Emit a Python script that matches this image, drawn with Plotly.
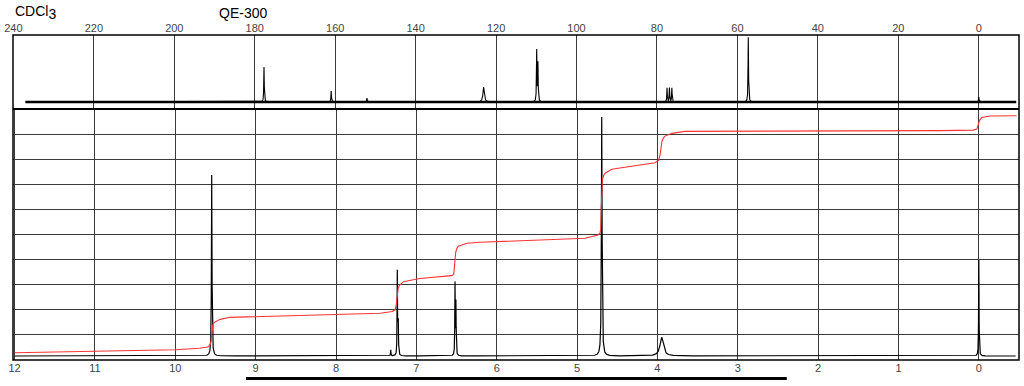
import numpy as np
import plotly.graph_objects as go

# ---------------- data ----------------
# 1H spectrum: peak positions (ppm), heights (grid units above frame bottom), half widths (ppm)
h_peak_ppm = [9.547, 7.319, 7.237, 7.225, 6.519, 6.508, 4.693, 3.947, 0.0]
h_peak_height = [7.21, 0.24, 3.36, 1.30, 2.83, 2.05, 9.52, 0.74, 3.82]
h_peak_hwhm = [0.004, 0.003, 0.003, 0.003, 0.003, 0.003, 0.005, 0.025, 0.003]
h_baseline = 0.16
h_range = [12.0, -0.46]

# 13C spectrum: peak positions (ppm), heights (px-units above baseline), half widths (ppm)
c_peak_ppm = [177.7, 161.0, 152.1, 123.1, 109.9, 109.6, 77.5, 76.9, 76.3, 57.3, 0.0]
c_peak_height = [35.0, 11.0, 4.0, 15.0, 51.0, 38.0, 14.0, 14.0, 14.0, 64.7, 5.0]
c_peak_hwhm = [0.07, 0.07, 0.07, 0.2, 0.07, 0.07, 0.07, 0.07, 0.07, 0.07, 0.07]
c_range = [237.0, -9.3]

# integral curve (ppm, grid units)
integral_ppm = [12.0, 11.0, 10.0, 9.70, 9.60, 9.57, 9.555, 9.548, 9.54, 9.532, 9.515,
                9.48, 9.44, 9.32, 8.82, 7.83, 7.45, 7.30, 7.265, 7.25, 7.242, 7.235,
                7.225, 7.205, 7.16, 6.96, 6.56, 6.535, 6.525, 6.518, 6.51, 6.495, 6.478,
                6.37, 6.21, 4.90, 4.74, 4.715, 4.705, 4.700, 4.695, 4.685, 4.665, 4.65,
                4.57, 4.28, 4.03, 3.985, 3.965, 3.955, 3.945, 3.925, 3.906, 3.82, 3.66,
                0.48, 0.07, 0.025, 0.01, 0.0, -0.01, -0.037, -0.14, -0.47]
integral_value = [0.29, 0.36, 0.41, 0.47, 0.52, 0.58, 0.75, 1.0, 1.25, 1.40, 1.50,
                  1.57, 1.62, 1.70, 1.75, 1.83, 1.86, 1.93, 2.0, 2.2, 2.5, 2.75,
                  2.9, 2.99, 3.12, 3.25, 3.36, 3.42, 3.7, 4.0, 4.3, 4.45, 4.53,
                  4.65, 4.69, 4.85, 4.98, 5.05, 5.2, 6.0, 6.9, 7.2, 7.38, 7.44,
                  7.60, 7.73, 7.86, 7.95, 8.2, 8.45, 8.7, 8.85, 8.92, 9.03, 9.11,
                  9.14, 9.16, 9.2, 9.35, 9.45, 9.55, 9.66, 9.72, 9.73]

bar_ppm = [9.12, 2.39]
title_left = "CDCl<sub><span style='font-size:14px'>3</span></sub>"
title_mid = "QE-300"

# ---------------- build curves from peak lists ----------------
def spectrum(lo, hi, step, pos, amp, hw, base):
    x = np.arange(hi, lo, -step)
    x = np.unique(np.concatenate([x, np.array(pos)]))[::-1]
    y = np.full_like(x, base, dtype=float)
    for p, a, w in zip(pos, amp, hw):
        y += a / (1.0 + ((x - p) / w) ** 2)
    return x, y

hx, hy = spectrum(h_range[1], h_range[0], 0.001, h_peak_ppm, h_peak_height, h_peak_hwhm, h_baseline)
cx, cy = spectrum(c_range[1], c_range[0], 0.02, c_peak_ppm, c_peak_height, c_peak_hwhm, 0.0)

fig = go.Figure()
fig.add_trace(go.Scatter(x=hx, y=hy, mode="lines", line=dict(color="black", width=1.2),
                         xaxis="x", yaxis="y", hoverinfo="skip"))
fig.add_trace(go.Scatter(x=integral_ppm, y=integral_value, mode="lines",
                         line=dict(color="#ff3333", width=1.1), xaxis="x", yaxis="y",
                         hoverinfo="skip"))
fig.add_trace(go.Scatter(x=c_range, y=[0, 0], mode="lines", line=dict(color="black", width=2.6),
                         xaxis="x2", yaxis="y2", hoverinfo="skip"))
fig.add_trace(go.Scatter(x=cx, y=cy, mode="lines", line=dict(color="black", width=1.1),
                         xaxis="x2", yaxis="y2", hoverinfo="skip"))

split = 251 / 325
tickfont = dict(family="Liberation Sans, Arial, sans-serif", size=11, color="#444")
grid = "#3a3a3a"

fig.update_layout(
    width=1024, height=386,
    margin=dict(l=13, r=5, t=35, b=26, autoexpand=False),
    paper_bgcolor="white", plot_bgcolor="white",
    showlegend=False,
    xaxis=dict(domain=[0, 1], range=[12.02, -0.5], anchor="y", tickmode="linear", tick0=0, dtick=1,
               showgrid=True, gridcolor=grid, gridwidth=1, zeroline=False, ticks="",
               tickfont=tickfont, showline=False, automargin=False),
    yaxis=dict(domain=[0, split], range=[0, 10], tickmode="linear", tick0=0, dtick=1,
               showgrid=True, gridcolor=grid, gridwidth=1, showticklabels=False, zeroline=False,
               automargin=False),
    xaxis2=dict(domain=[0, 1], range=[240.1, -10], anchor="y2", side="top", tickmode="linear",
                tick0=0, dtick=20, showgrid=True, gridcolor=grid, gridwidth=1, zeroline=False,
                ticks="", tickfont=tickfont, showline=False, automargin=False),
    yaxis2=dict(domain=[split, 1], range=[-7, 67], showgrid=False, showticklabels=False,
                zeroline=False, automargin=False),
)

# frames
fig.add_shape(type="rect", xref="paper", yref="paper", x0=0, x1=1, y0=0, y1=1,
              line=dict(color="black", width=1.5))
fig.add_shape(type="line", xref="paper", yref="paper", x0=0, x1=1, y0=split, y1=split,
              line=dict(color="black", width=2))
# bar below the axis
fig.add_shape(type="line", xref="x", yref="paper", x0=bar_ppm[0], x1=bar_ppm[1],
              y0=-18.5 / 325, y1=-18.5 / 325, line=dict(color="black", width=3))

fig.add_annotation(text=title_left, xref="paper", yref="paper", x=0, y=1 + 22 / 325,
                   xanchor="left", yanchor="middle", showarrow=False,
                   font=dict(family="Liberation Sans, Arial, sans-serif", size=14, color="black"))
fig.add_annotation(text=title_mid, xref="paper", yref="paper", x=204 / 1006, y=1 + 22 / 325,
                   xanchor="left", yanchor="middle", showarrow=False,
                   font=dict(family="Liberation Sans, Arial, sans-serif", size=14, color="black"))

fig.write_html("out.html", config={"displayModeBar": False},
               post_script="document.body.style.margin='0';document.body.style.overflow='hidden';")
